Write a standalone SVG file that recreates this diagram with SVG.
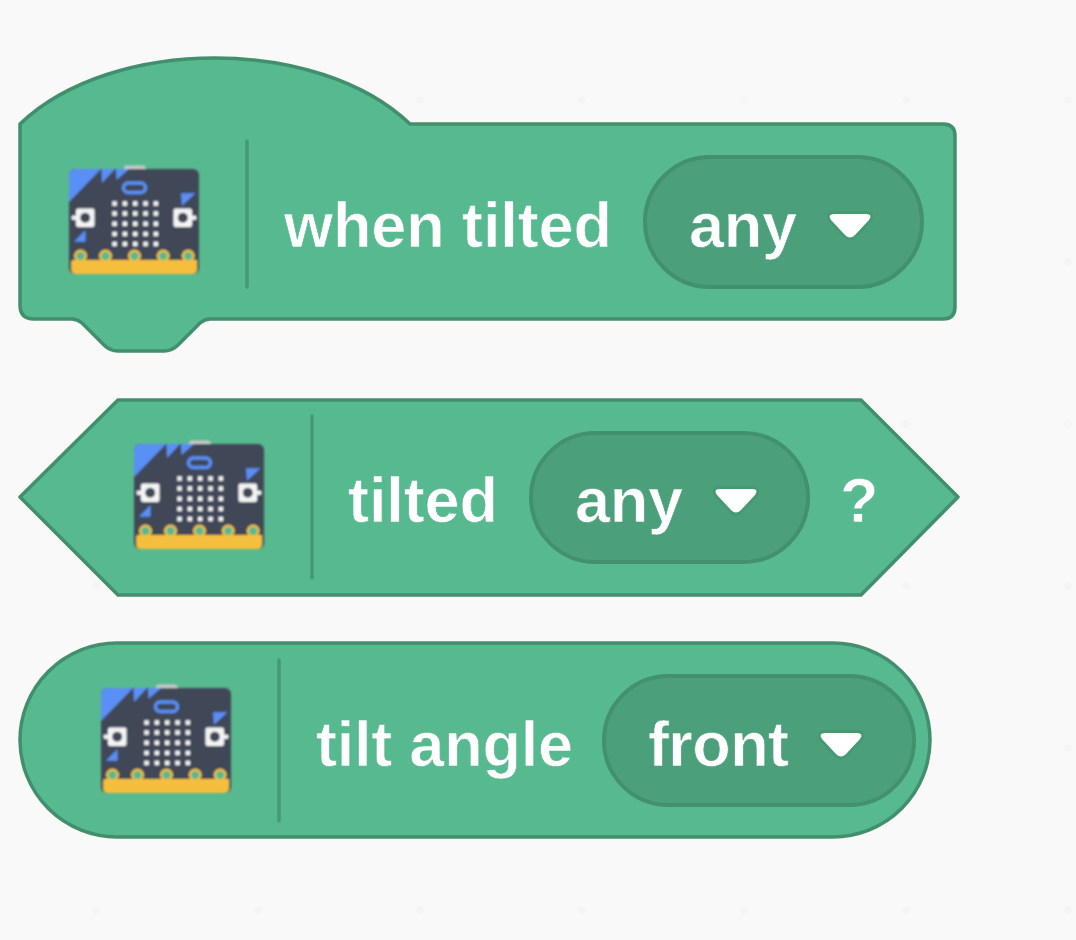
<svg xmlns="http://www.w3.org/2000/svg" width="1076" height="940" viewBox="0 0 1076 940">
<style>
.block{fill:#57b98f;stroke:#418f6c;stroke-width:3.500;stroke-linejoin:round}
.pill{fill:#4ba07b;stroke:#43906d;stroke-width:4}
.div{stroke:#459a74;stroke-width:3.500;stroke-linecap:round;fill:none}
.t{font-family:"Liberation Sans",Arial,Helvetica,sans-serif;font-size:63px;font-weight:700;fill:#fff;stroke:#57b98f;stroke-width:.7}
.p{stroke:#4ba07b}
.arr{fill:#fff;stroke:#459a74;stroke-width:6;stroke-linejoin:round;paint-order:stroke}
.bgdot{fill:#f5f5f5}
</style>
<defs>
<filter id="soft" x="-5%" y="-5%" width="110%" height="110%"><feGaussianBlur stdDeviation="0.8"/></filter>
<path id="caret" class="arr" d="M-16 0H16Q23 0 19 6L5 21Q0 26-5 21L-19 6Q-23 0-16 0Z"/>
<g id="mb" filter="url(#soft)">
<rect x="55" y="-3.500" width="21.500" height="6" rx="2.500" fill="#c9c9c9"/>
<rect x="0" y="0" width="130" height="105" rx="6" fill="#3f4656"/>
<path d="M0 33V6Q0 0 6 0H32Z M32.500 0H46L33 14Z M47 0H60L47.500 11Z M112 24.300H126.500L113 36.700Z M16.500 61V72.700H5Z" fill="#5a8ff5"/>
<rect x="54.500" y="14" width="22" height="9.500" rx="4.700" fill="none" stroke="#5a8ff5" stroke-width="3.500"/>
<g fill="#f5f5f5">
<rect x="43.300" y="32.300" width="4.500" height="4.500"/><rect x="53.600" y="32.300" width="4.500" height="4.500"/><rect x="64" y="32.300" width="4.500" height="4.500"/><rect x="74.300" y="32.300" width="4.500" height="4.500"/><rect x="84.600" y="32.300" width="4.500" height="4.500"/>
<rect x="43.300" y="42.300" width="4.500" height="4.500"/><rect x="53.600" y="42.300" width="4.500" height="4.500"/><rect x="64" y="42.300" width="4.500" height="4.500"/><rect x="74.300" y="42.300" width="4.500" height="4.500"/><rect x="84.600" y="42.300" width="4.500" height="4.500"/>
<rect x="43.300" y="52.500" width="4.500" height="4.500"/><rect x="53.600" y="52.500" width="4.500" height="4.500"/><rect x="64" y="52.500" width="4.500" height="4.500"/><rect x="74.300" y="52.500" width="4.500" height="4.500"/><rect x="84.600" y="52.500" width="4.500" height="4.500"/>
<rect x="43.300" y="62.700" width="4.500" height="4.500"/><rect x="53.600" y="62.700" width="4.500" height="4.500"/><rect x="64" y="62.700" width="4.500" height="4.500"/><rect x="74.300" y="62.700" width="4.500" height="4.500"/><rect x="84.600" y="62.700" width="4.500" height="4.500"/>
<rect x="43.300" y="72.700" width="4.500" height="4.500"/><rect x="53.600" y="72.700" width="4.500" height="4.500"/><rect x="64" y="72.700" width="4.500" height="4.500"/><rect x="74.300" y="72.700" width="4.500" height="4.500"/><rect x="84.600" y="72.700" width="4.500" height="4.500"/>
<rect x="7" y="39.500" width="18.500" height="18.500" rx="2"/><rect x="104.500" y="39.500" width="18.500" height="18.500" rx="2"/>
<rect x="2.500" y="46.500" width="5" height="4.500" rx="2"/><rect x="122.500" y="46.500" width="5" height="4.500" rx="2"/>
</g>
<circle cx="16.200" cy="48.700" r="5" fill="#3f4656"/><circle cx="113.800" cy="48.700" r="5" fill="#3f4656"/>
<path d="M2.200 93Q2.200 91 4 91H128V100Q128 105 123 105H7Q2.200 105 2.200 100Z" fill="#f5bf3c"/>
<g fill="#f5bf3c"><circle cx="11.500" cy="87" r="6.500"/><circle cx="36.500" cy="87" r="6.500"/><circle cx="65.500" cy="87" r="6.500"/><circle cx="94.200" cy="87" r="6.500"/><circle cx="119.200" cy="87" r="6.500"/></g>
<g fill="#57b98f"><circle cx="11.500" cy="87" r="4.200"/><circle cx="36.500" cy="87" r="4.200"/><circle cx="65.500" cy="87" r="4.200"/><circle cx="94.200" cy="87" r="4.200"/><circle cx="119.200" cy="87" r="4.200"/></g>
</g>
</defs>
<rect width="1076" height="940" fill="#f9f9f9"/>
<g id="background-dots" class="bgdot">
<circle cx="420" cy="100" r="4"/><circle cx="582" cy="100" r="4"/><circle cx="744" cy="100" r="4"/><circle cx="906" cy="100" r="4"/><circle cx="1068" cy="100" r="4"/>
<circle cx="1068" cy="262" r="4"/><circle cx="906" cy="424" r="4"/><circle cx="1068" cy="424" r="4"/>
<circle cx="96" cy="586" r="4"/><circle cx="906" cy="586" r="4"/><circle cx="1068" cy="586" r="4"/><circle cx="1068" cy="748" r="4"/>
<circle cx="96" cy="910" r="4"/><circle cx="258" cy="910" r="4"/><circle cx="420" cy="910" r="4"/><circle cx="582" cy="910" r="4"/><circle cx="744" cy="910" r="4"/><circle cx="906" cy="910" r="4"/><circle cx="1068" cy="910" r="4"/>
</g>
<g id="connectors"></g>
<g id="block-when-tilted">
<path class="block" d="M20 124C112 36 318 36 410 124H943Q955 124 955 136V307Q955 319 943 319H210Q205 319 200 323L178 345Q172 351 164 351H118Q110 351 104 345L82 323Q77 319 72 319H34Q20 319 20 305Z"/>
<use href="#mb" x="69" y="169"/>
<path class="div" d="M247 141V287"/>
<text class="t" x="284" y="247" textLength="328" lengthAdjust="spacing">when tilted</text>
<rect class="pill" x="645" y="157" width="277" height="130" rx="65"/>
<text class="t p" x="689" y="247" textLength="108" lengthAdjust="spacing">any</text>
<use href="#caret" x="850" y="214"/>
</g>
<g id="block-tilted">
<path class="block" d="M20 497L118 400H861L958 497L861 595H118Z"/>
<use href="#mb" x="134" y="444"/>
<path class="div" d="M312 416V578"/>
<text class="t" x="348" y="522" textLength="150" lengthAdjust="spacing">tilted</text>
<rect class="pill" x="531" y="433" width="277" height="129" rx="64.500"/>
<text class="t p" x="575" y="522" textLength="108" lengthAdjust="spacing">any</text>
<use href="#caret" x="736" y="489"/>
<text class="t" x="840" y="522">?</text>
</g>
<g id="block-tilt-angle">
<rect class="block" x="20" y="643" width="910" height="194" rx="97"/>
<use href="#mb" x="101" y="688"/>
<path class="div" d="M279 660V821"/>
<text class="t" x="316" y="766" textLength="257" lengthAdjust="spacing">tilt angle</text>
<rect class="pill" x="604" y="676" width="310" height="129" rx="64.500"/>
<text class="t p" x="648" y="766" textLength="141" lengthAdjust="spacing">front</text>
<use href="#caret" x="841" y="733"/>
</g>
</svg>
